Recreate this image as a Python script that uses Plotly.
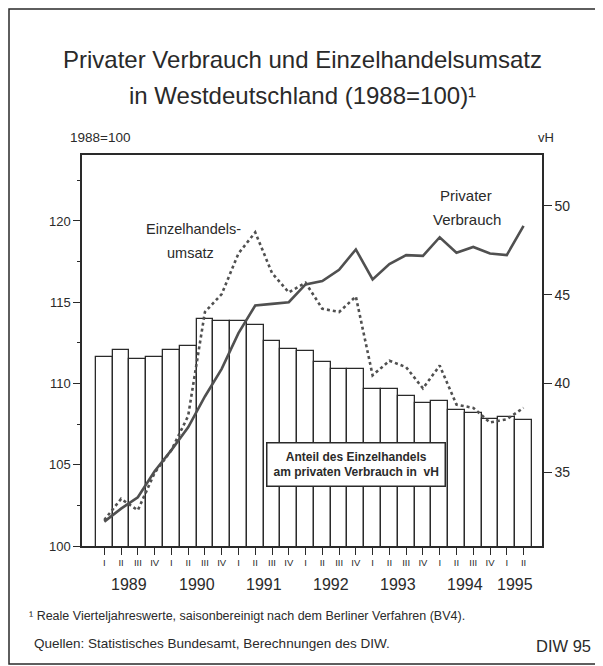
import plotly.graph_objects as go

quarters = ["I", "II", "III", "IV"] * 6 + ["I", "II"]
years = ["1989", "1990", "1991", "1992", "1993", "1994", "1995"]
year_pos = [1.5, 5.5, 9.5, 13.5, 17.5, 21.5, 24.5]

anteil_vh = [41.5, 41.9, 41.35, 41.5, 41.9, 42.1, 43.6, 43.5, 43.5, 43.3, 42.4, 41.95, 41.85,
             41.2, 40.8, 40.8, 39.7, 39.7, 39.3, 38.9, 39.0, 38.5, 38.35, 38.0, 38.1, 37.95]
privater_verbrauch = [101.5, 102.3, 103.0, 104.6, 105.9, 107.3, 109.2, 110.9, 113.1, 114.8, 114.9, 115.0, 116.1,
                      116.3, 117.0, 118.25, 116.4, 117.35, 117.9, 117.85, 119.0, 118.05, 118.4, 118.0, 117.9, 119.7]
einzelhandelsumsatz = [101.6, 102.9, 102.2, 104.5, 105.9, 108.0, 114.4, 115.5, 118.0, 119.3, 116.8, 115.6, 116.2,
                       114.6, 114.4, 115.35, 110.5, 111.4, 111.0, 109.7, 111.1, 108.7, 108.5, 107.6, 107.8, 108.5]

x = list(range(len(quarters)))

# the page body has an 8px margin; work in window coordinates and shift
OFF = 8
W, H = 603 - OFF, 666 - OFF
L, R, T, B = 82, 542, 155, 546   # window coordinates of the plot area

def px(xp, yp):
    return (xp - L) / (R - L), (B - yp) / (B - T)

FONT = "Liberation Sans"
INK = "#2a2a2a"
LINE = "#505050"

fig = go.Figure()
fig.add_trace(go.Bar(x=x, y=anteil_vh, width=1.0, marker=dict(color="white", line=dict(color=INK, width=1.3)),
                     yaxis="y", showlegend=False))
fig.add_trace(go.Scatter(x=x, y=privater_verbrauch, mode="lines", line=dict(color=LINE, width=2.6),
                         yaxis="y2", showlegend=False))
fig.add_trace(go.Scatter(x=x, y=einzelhandelsumsatz, mode="lines", line=dict(color=LINE, width=2.6, dash="dot"),
                         yaxis="y2", showlegend=False))

fig.update_layout(
    width=W, height=H, margin=dict(l=L - OFF, r=603 - R, t=T - OFF, b=666 - B),
    paper_bgcolor="white", plot_bgcolor="white",
    font=dict(family=FONT, color=INK),
    bargap=0,
    xaxis=dict(range=[-1.33, 26.1], tickmode="array", tickvals=x, ticktext=quarters,
               ticks="outside", ticklen=7, tickwidth=1.2, tickcolor=INK,
               tickfont=dict(size=9.5, family=FONT, color=INK),
               showgrid=False, zeroline=False, showline=True, linecolor=INK, linewidth=1.5, mirror=True),
    yaxis=dict(range=[30.83, 52.87], side="right", tickvals=[35, 40, 45, 50],
               ticks="outside", ticklen=8, tickwidth=1.2, tickcolor=INK,
               tickfont=dict(size=14, family=FONT, color=INK),
               showgrid=False, zeroline=False, showline=True, linecolor=INK, linewidth=1.5),
    yaxis2=dict(range=[100, 124.06], side="left", overlaying="y", tickvals=[100, 105, 110, 115, 120],
                ticks="outside", ticklen=7, tickwidth=1.2, tickcolor=INK,
                minor=dict(dtick=2.5, ticks="outside", ticklen=3, tickcolor=INK, tick0=100),
                tickfont=dict(size=13, family=FONT, color=INK),
                showgrid=False, zeroline=False, showline=True, linecolor=INK, linewidth=1.5),
)

anns = []
def text(xp, yp, s, size, xanchor="center"):
    xx, yy = px(xp, yp)
    anns.append(dict(x=xx, y=yy, xref="paper", yref="paper", text=s, showarrow=False,
                     xanchor=xanchor, yanchor="middle", font=dict(size=size, family=FONT, color=INK)))

text(302, 59, "Privater Verbrauch und Einzelhandelsumsatz", 24)
text(302, 96, "in Westdeutschland (1988=100)¹", 24)
text(68, 137, "1988=100", 13.5, xanchor="left")
text(546, 137, "vH", 13)
text(193, 229, "Einzelhandels-", 14.5)
text(190, 253, "umsatz", 14.5)
text(466, 195, "Privater", 15)
text(467, 219, "Verbrauch", 15)
text(27, 616, "¹ Reale Vierteljahreswerte, saisonbereinigt nach dem Berliner Verfahren (BV4).", 12.5, xanchor="left")
text(32, 643, "Quellen: Statistisches Bundesamt, Berechnungen des DIW.", 13.5, xanchor="left")
text(593, 646, "DIW 95", 16.5, xanchor="right")

for yr, pos in zip(years, year_pos):
    anns.append(dict(x=pos, y=0, xref="x", yref="paper", yshift=-28, text=yr, showarrow=False,
                     xanchor="center", yanchor="top", font=dict(size=16, family=FONT, color=INK)))

bx, by = px(356, 464)
anns.append(dict(x=bx, y=by, xref="paper", yref="paper",
                 text="<b>Anteil des Einzelhandels<br>am privaten Verbrauch in  vH</b>",
                 showarrow=False, xanchor="center", yanchor="middle", align="center",
                 font=dict(size=12, family=FONT, color=INK),
                 bgcolor="white", bordercolor=INK, borderwidth=1.5, borderpad=6))
fig.update_layout(annotations=anns)

x0, y0 = px(OFF + 1, OFF + 1)
x1, y1 = px(599, 664)
fig.add_shape(type="rect", xref="paper", yref="paper", x0=x0, y0=y0, x1=x1, y1=y1,
              line=dict(color=INK, width=1.5), fillcolor="rgba(0,0,0,0)", layer="below")

fig.write_html("out.html")
